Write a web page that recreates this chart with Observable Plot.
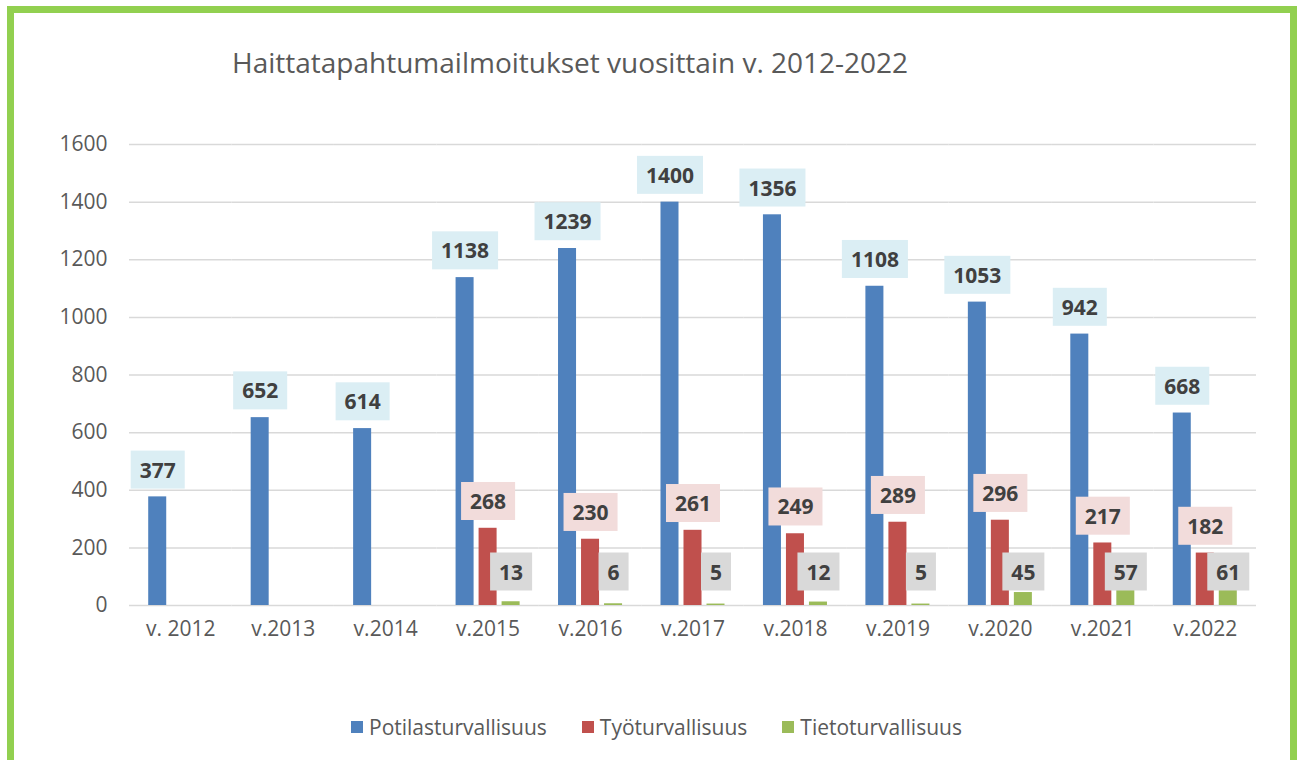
<!DOCTYPE html>
<html><head><meta charset="utf-8">
<script src="https://cdn.jsdelivr.net/npm/d3@7"></script>
<script src="https://cdn.jsdelivr.net/npm/@observablehq/plot@0.6"></script>
<style>
body{margin:0;background:#fff;}
#wrap{position:relative;width:1298px;height:760px;overflow:hidden;background:#fff;font-family:"Open Sans",sans-serif;}
#frame{position:absolute;left:7px;top:6px;width:1290px;height:820px;box-sizing:border-box;border:7px solid #92d050;pointer-events:none;z-index:5;}
#title{position:absolute;left:232px;top:48px;font-size:28px;line-height:28px;color:#595959;white-space:nowrap;}
#chart{position:absolute;left:0;top:0;}
#legend{position:absolute;left:351px;top:710px;}
#legend .lg-swatch{margin-right:35px !important;font-size:21px;color:#595959;}
#legend .lg-swatch > svg{margin-right:6px !important;}
</style>
</head><body>
<div id="wrap">
  <div id="title">Haittatapahtumailmoitukset vuosittain v. 2012-2022</div>
  <div id="chart"></div>
  <div id="legend"></div>
  <div id="frame"></div>
</div>
<script>
const years = ["v. 2012","v.2013","v.2014","v.2015","v.2016","v.2017","v.2018","v.2019","v.2020","v.2021","v.2022"];
const series = ["Potilasturvallisuus","Työturvallisuus","Tietoturvallisuus"];
const potilas = [377,652,614,1138,1239,1400,1356,1108,1053,942,668];
const tyo = [null,null,null,268,230,261,249,289,296,217,182];
const tieto = [null,null,null,13,6,5,12,5,45,57,61];
const yTicks = [0,200,400,600,800,1000,1200,1400,1600];
const colors = ["#4f81bd","#c0504d","#9bbb59"];
const labelBg = ["#dbeef4","#f2dcdb","#d9d9d9"];

const cols = [potilas, tyo, tieto];
const data = years.flatMap((y,i) => series.map((s,j) => ({year:y, series:s, value:cols[j][i]})))
  .filter(d => d.value != null);
const bySeries = s => data.filter(d => d.series === s);

const labelStyle = {fontSize:21, fontWeight:"bold", fill:"#404040", text: d => String(d.value)};

const chart = Plot.plot({
  width:1298, height:660,
  marginLeft:129, marginRight:42, marginTop:144, marginBottom:55,
  style:{fontFamily:"'Open Sans',sans-serif", fontSize:"21px", color:"#595959", background:"transparent", overflow:"visible"},
  fx:{domain:years, padding:0, label:null, round:false},
  x:{domain:series, axis:null, paddingInner:0.217, paddingOuter:0.835, round:false},
  y:{domain:[0,1600], label:null},
  color:{domain:series, range:colors},
  marks:[
    Plot.gridY(yTicks, {stroke:"#d9d9d9", strokeOpacity:1, strokeWidth:1.5}),
    Plot.axisY(yTicks, {tickSize:0, tickPadding:22, fontSize:21, label:null, tickFormat: d => String(d)}),
    Plot.axisFx({anchor:"bottom", tickSize:0, tickPadding:16, fontSize:21, label:null}),
    Plot.barY(data, {fx:"year", x:"series", y:"value", fill:"series"}),
    Plot.text(bySeries(series[0]), {fx:"year", x:"series", y:"value", dy:-26, className:"lbl0", ...labelStyle}),
    Plot.text(bySeries(series[1]), {fx:"year", x:"series", y:"value", dy:-26, className:"lbl1", ...labelStyle}),
    Plot.text(bySeries(series[2]), {fx:"year", x:"series", frameAnchor:"bottom", dy:-26, className:"lbl2", ...labelStyle})
  ]
});
document.getElementById("chart").appendChild(chart);

// label background boxes
[0,1,2].forEach(k => {
  chart.querySelectorAll(`.lbl${k} text`).forEach(t => {
    const b = t.getBBox();
    const r = document.createElementNS("http://www.w3.org/2000/svg","rect");
    const w = b.width + 18, h = 38;
    r.setAttribute("x", b.x + b.width/2 - w/2);
    r.setAttribute("y", b.y + b.height/2 - h/2);
    r.setAttribute("width", w);
    r.setAttribute("height", h);
    r.setAttribute("fill", labelBg[k]);
    const tr = t.getAttribute("transform");
    if (tr) r.setAttribute("transform", tr);
    t.parentNode.insertBefore(r, t);
  });
});

const legend = Plot.legend({color:{domain:series, range:colors}, legend:"swatches", swatchSize:12, className:"lg",
  style:{fontFamily:"'Open Sans',sans-serif", fontSize:"21px", color:"#595959"}});
document.getElementById("legend").appendChild(legend);
</script>
</body></html>
